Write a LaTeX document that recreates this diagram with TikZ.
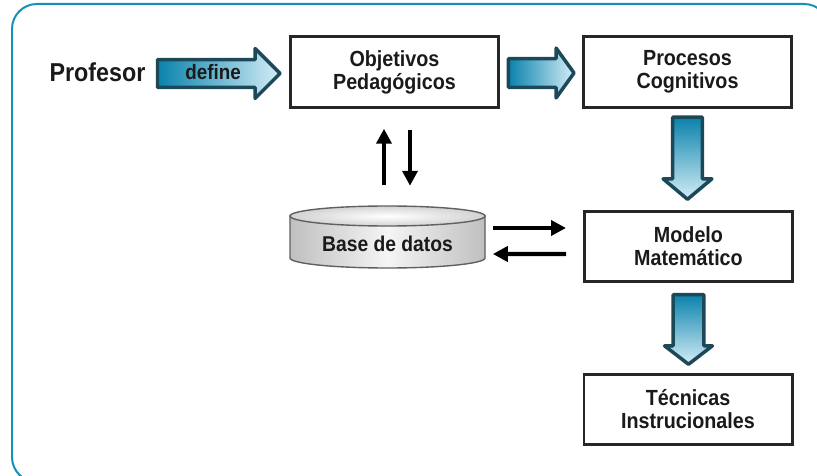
\documentclass[tikz,border=0pt]{standalone}
\usepackage{fontspec}
\setmainfont{Liberation Sans}[FakeStretch=0.9]
\usetikzlibrary{arrows.meta,calc}
\definecolor{frameteal}{HTML}{1591B8}
\definecolor{arrowedge}{HTML}{1D4858}
\definecolor{arrowdark}{HTML}{0A82AC}
\definecolor{arrowlight}{HTML}{D4EDF7}
\definecolor{boxedge}{HTML}{262626}
\definecolor{txt}{HTML}{1A1A1A}
\tikzset{
  box/.style={draw=boxedge, line width=2.8pt, minimum width=209pt, minimum height=71pt,
    inner sep=0pt, align=center, text=txt, font=\bfseries\fontsize{22}{23}\selectfont},
  fatH/.style={draw=arrowedge, line width=3.5pt, line join=round,
    left color=arrowdark, right color=arrowlight},
  fatV/.style={draw=arrowedge, line width=3.5pt, line join=round,
    top color=arrowdark, bottom color=arrowlight},
  thinarrow/.style={draw=black, line width=4.5pt, -{Triangle[length=15pt,width=15pt]}},
}
% horizontal fat arrow: start, tip, head length, body half, head half
\newcommand\fatarrowH[5]{%
  \path[fatH] let \p1=#1, \p2=#2 in
    (\x1,{\y1+#4pt}) -- ({\x2-#3pt},{\y1+#4pt}) -- ({\x2-#3pt},{\y1+#5pt})
    -- (\x2,\y1) -- ({\x2-#3pt},{\y1-#5pt}) -- ({\x2-#3pt},{\y1-#4pt})
    -- (\x1,{\y1-#4pt}) -- cycle;}
% vertical fat arrow (downwards): start, tip, head length, body half, head half
\newcommand\fatarrowV[5]{%
  \path[fatV] let \p1=#1, \p2=#2 in
    ({\x1-#4pt},\y1) -- ({\x1-#4pt},{\y2+#3pt}) -- ({\x1-#5pt},{\y2+#3pt})
    -- (\x1,\y2) -- ({\x1+#5pt},{\y2+#3pt}) -- ({\x1+#4pt},{\y2+#3pt})
    -- ({\x1+#4pt},\y1) -- cycle;}
\begin{document}
\begin{tikzpicture}[x=1bp,y=-1bp]
\useasboundingbox (0,0) rectangle (817,476);
\begin{scope}
  \clip (0,0) rectangle (817,476);
  \draw[frameteal, line width=2pt, rounded corners=25pt] (12,4) rectangle (829,482);
\end{scope}

% boxes
\node[box] (obj) at (394.5,72) {Objetivos\\Pedagógicos};
\node[box] (proc) at (687.5,72) {Procesos\\Cognitivos};
\node[box] (mod) at (688.5,246.5) {Modelo\\Matemático};
\node[box] (tec) at (688,409.5) {Técnicas\\Instrucionales};

% Profesor
\node[text=txt, font=\bfseries\fontsize{26}{30}\selectfont, inner sep=0pt] (prof) at (97.5,72.5) {Profesor};
\coordinate (defstart) at (157.5,73.5);

% fat arrows
\fatarrowH{(defstart)}{([xshift=-9pt]obj.west)}{25}{14}{25}
\node[text=txt, font=\bfseries\fontsize{21}{24}\selectfont, inner sep=0pt] (deftext) at (213,72) {define};
\fatarrowH{([xshift=8.5pt,yshift=-1pt]obj.east)}{([xshift=-8pt]proc.west)}{18}{14.5}{25}
\fatarrowV{([yshift=-8.5pt]proc.south)}{([yshift=10.5pt]mod.north)}{20.5}{15}{24.5}
\fatarrowV{([yshift=-11.5pt]mod.south)}{([yshift=8.5pt]tec.north)}{18.5}{15.5}{24}

% database cylinder
\node[minimum width=195pt, minimum height=62pt, inner sep=0pt] (db) at (387.5,237) {};
\path[draw=gray!75!black, line width=1.4pt, left color=gray!50, right color=gray!50, middle color=gray!8]
  (290,216) -- (290,258) arc[start angle=180, end angle=0, x radius=97.5, y radius=10]
  -- (485,216) -- cycle;
\path[draw=gray!75!black, line width=1.4pt, inner color=white, outer color=gray!35]
  (387.5,216) ellipse[x radius=97.5, y radius=10];
\node[text=txt, font=\bfseries\fontsize{21.5}{24}\selectfont, inner sep=0pt] (dbtext) at (387.5,244) {Base de datos};

% thin arrows
\draw[thinarrow] ($(obj.south)+(-10.5,76)$) -- ($(obj.south)+(-10.5,20)$);
\draw[thinarrow] ($(obj.south)+(15.5,21)$) -- ($(obj.south)+(15.5,77)$);
\draw[thinarrow] ($(db.east)+(8,-9)$) -- ($(mod.west)+(-17,-18.5)$);
\draw[thinarrow] ($(mod.west)+(-17,7.5)$) -- ($(db.east)+(8,17)$);
\end{tikzpicture}
\end{document}
